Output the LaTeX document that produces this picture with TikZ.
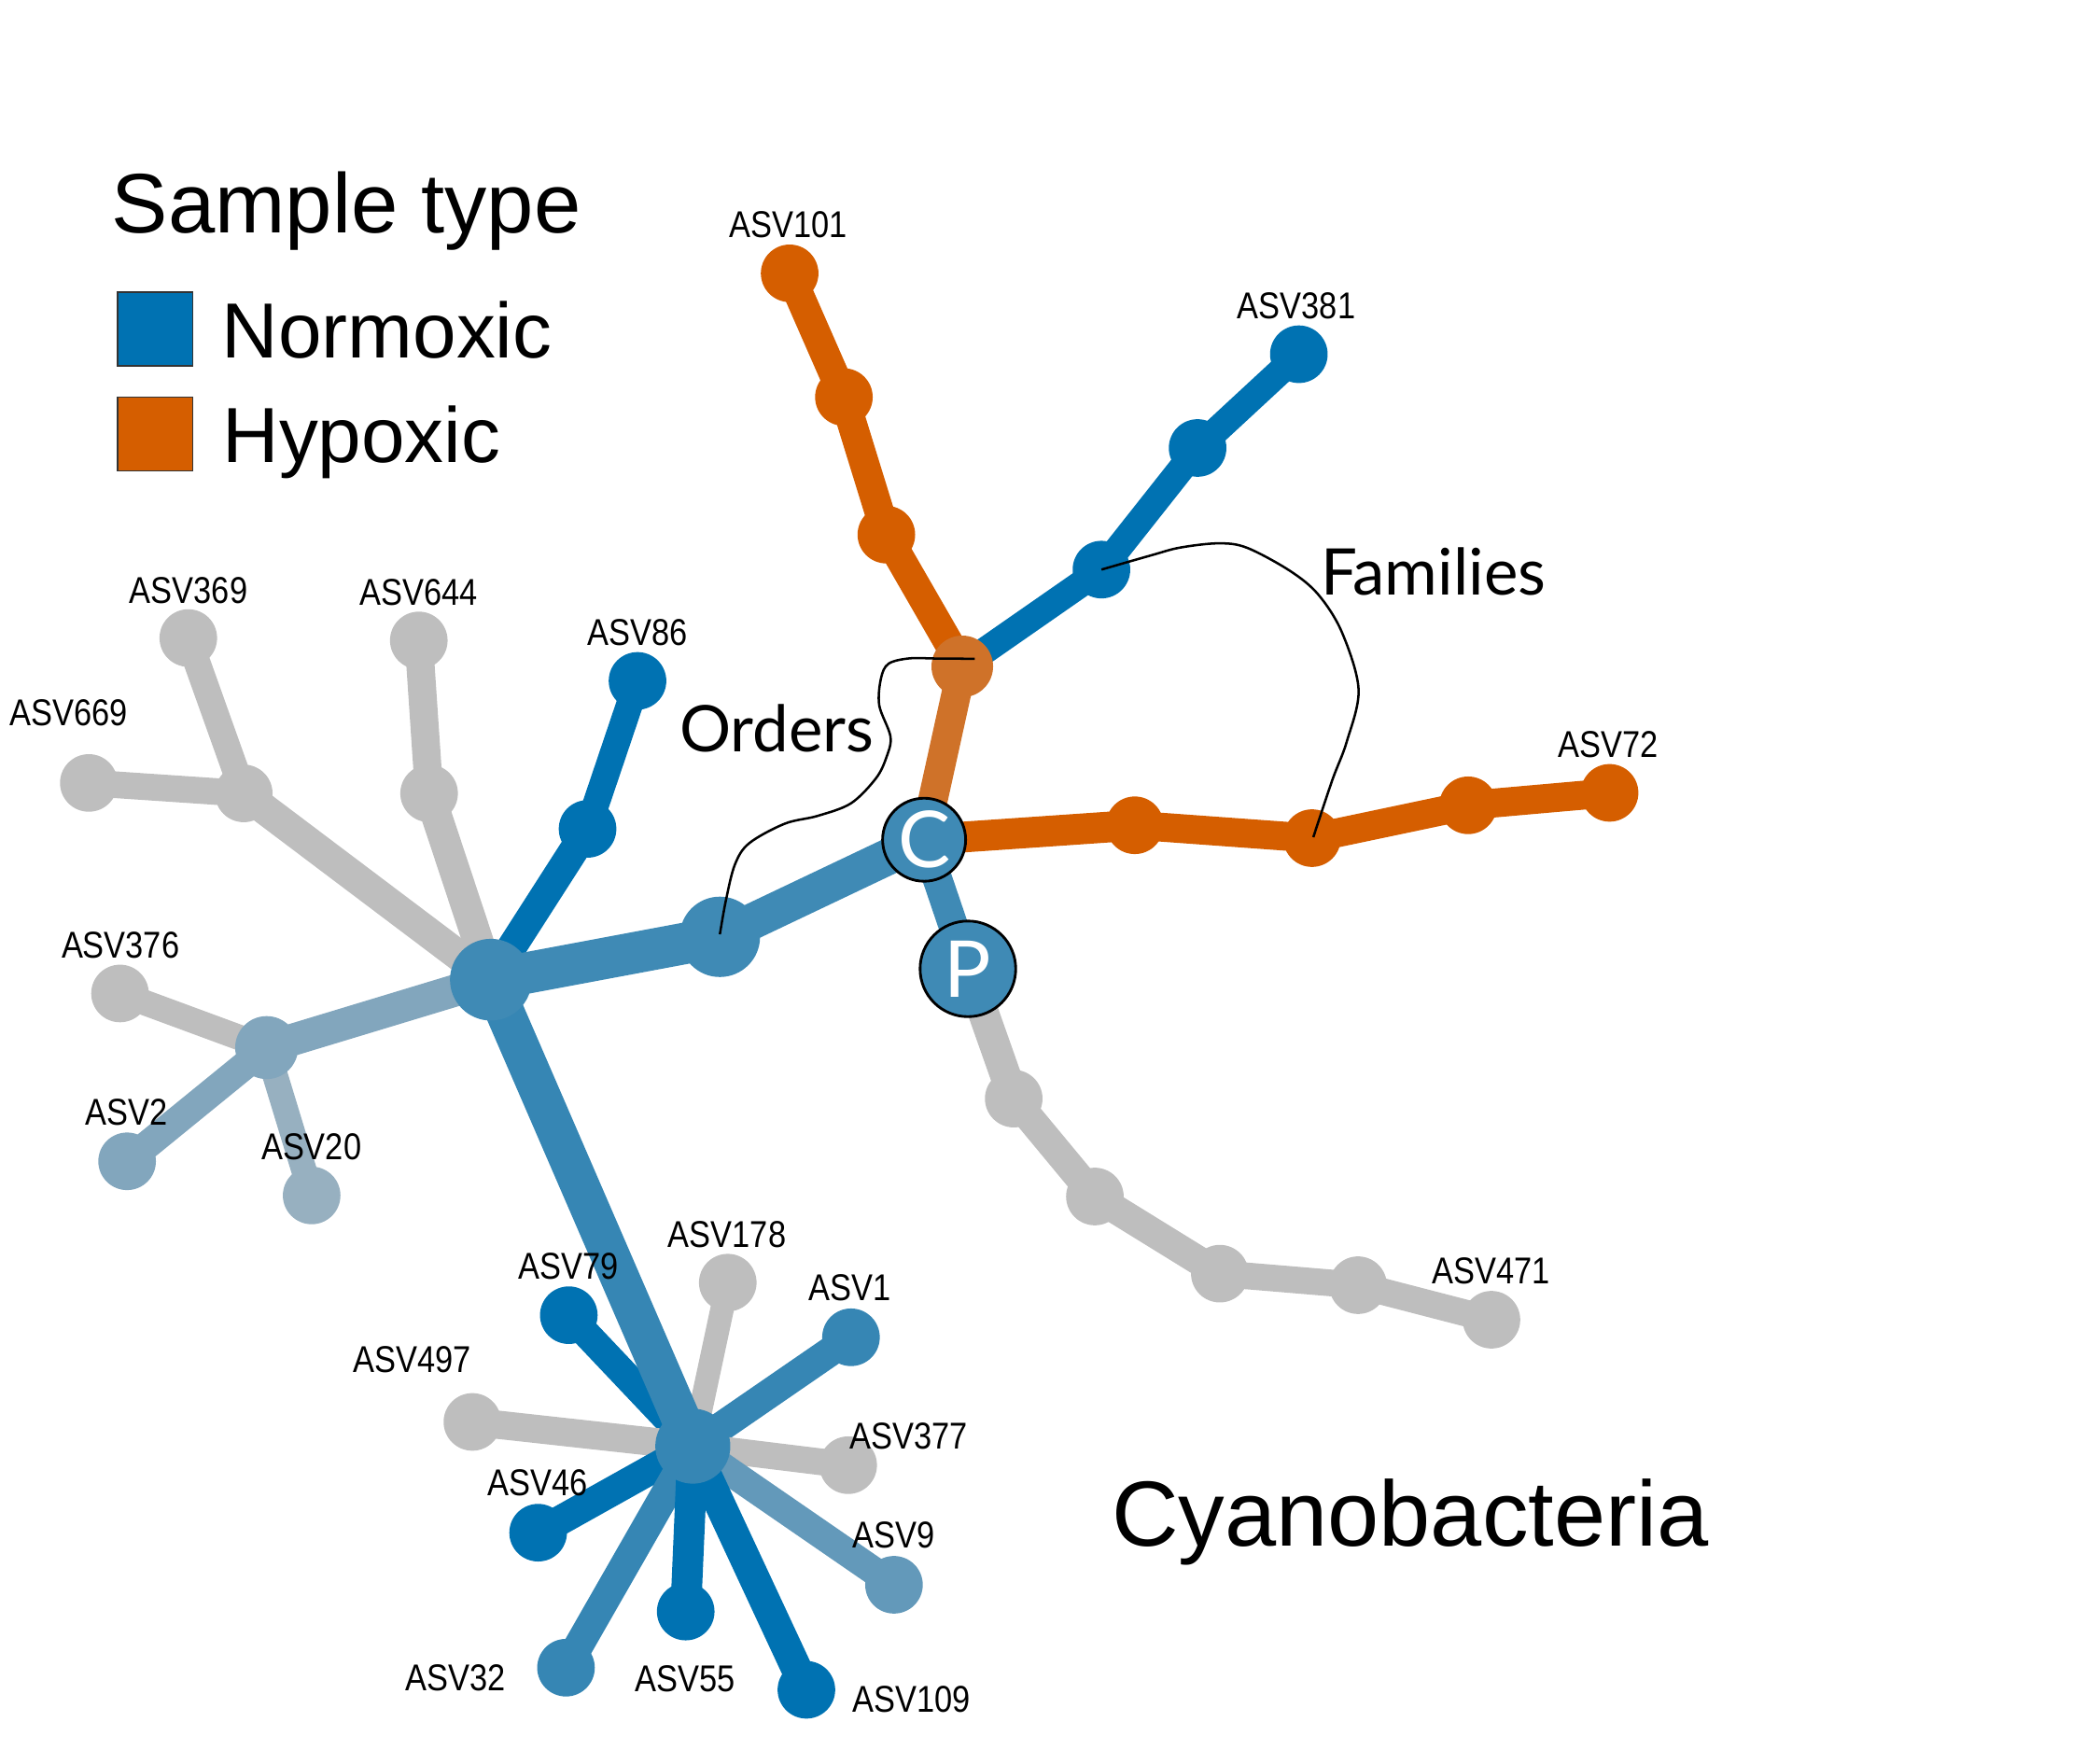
\documentclass[tikz,border=0pt]{standalone}
\usepackage{fontspec}
\setmainfont{Liberation Sans}
\newfontfamily\asvfont[FakeStretch=0.86]{Liberation Sans}
\newfontfamily\avfont{Lato}
\usepackage{tikz}
\usetikzlibrary{backgrounds}
\definecolor{normox}{HTML}{0072B2}
\definecolor{hypox}{HTML}{D55E00}
\definecolor{absent}{HTML}{BEBEBE}
\definecolor{mixA}{HTML}{3F8AB5}
\definecolor{mixB}{HTML}{3686B4}
\definecolor{mixC}{HTML}{6399BA}
\definecolor{mixD}{HTML}{82A6BD}
\definecolor{mixE}{HTML}{97B0C0}
\definecolor{mixO}{HTML}{CF7229}

\begin{document}
\begin{tikzpicture}[x=0.015cm,y=-0.015cm,
  asv/.style={circle,inner sep=0pt,minimum size=#1},asv/.default=0.645cm,
  rank/.style={circle,draw=black,line width=0.85pt,fill=mixA,inner sep=0pt,minimum size=#1,
    text=white,font=\avfont\fontsize{25}{25}\selectfont},
  lab/.style={inner sep=0pt,font=\asvfont\fontsize{11.9}{13}\selectfont},
  link/.style={line width=#1},link/.default=8.5pt,
  lead/.style={line width=0.75pt,black},
  leg/.style={anchor=base west,inner sep=0pt,font=\fontsize{24.9}{28}\selectfont},
  legsq/.style={draw=black!80,line width=0.5pt,inner sep=0pt,minimum width=0.84cm,minimum height=0.825cm}]
\useasboundingbox (0,0) rectangle (1568,1306);

\node[anchor=base west,inner sep=0pt,font=\fontsize{26.9}{30}\selectfont] (title) at (83,173.7) {Sample type};
\node[legsq,fill=normox] (sqN) at (116,245.5) {};
\node[legsq,fill=hypox] (sqH) at (116,324) {};
\node[leg] (txN) at (165.3,267.1) {Normoxic};
\node[leg] (txH) at (165.8,345.4) {Hypoxic};

\node[asv,fill=hypox] (a101) at (589.6,204.1) {};
\node[asv,fill=hypox] (o2) at (630.1,296.5) {};
\node[asv,fill=hypox] (o3) at (661.8,399.2) {};
\node[asv=0.69cm,fill=mixO] (ohub) at (718.5,497.6) {};
\node[asv,fill=normox] (b3) at (822.4,425.3) {};
\node[asv,fill=normox] (b2) at (894.2,334.5) {};
\node[asv,fill=normox] (a381) at (969.8,264.5) {};
\node[asv,fill=hypox] (r1) at (847.3,616.2) {};
\node[asv,fill=hypox] (r2) at (979.6,625.8) {};
\node[asv,fill=hypox] (r3) at (1096.2,601.3) {};
\node[asv,fill=hypox] (a72) at (1201.8,592) {};
\node[asv,fill=absent] (g1) at (756.9,820.3) {};
\node[asv,fill=absent] (g2) at (817.5,893.4) {};
\node[asv,fill=absent] (g3) at (910.8,951) {};
\node[asv,fill=absent] (g4) at (1014,959.6) {};
\node[asv,fill=absent] (a471) at (1113.6,985.4) {};

\node[asv=0.915cm,fill=mixA] (hub) at (366.5,731.5) {};
\node[asv=0.9cm,fill=mixA] (mid) at (537.5,699.5) {};
\node[rank=0.93cm] (C) at (690,627) {C};
\node[rank=1.071cm] (P) at (722.7,723.4) {P};

\node[asv,fill=normox] (n86) at (438.7,618.9) {};
\node[asv,fill=normox] (a86) at (476,508.4) {};
\node[asv,fill=absent] (n644) at (320.4,592.4) {};
\node[asv,fill=absent] (a644) at (312.7,478.2) {};
\node[asv,fill=absent] (n369) at (182,592.4) {};
\node[asv,fill=absent] (a369) at (140.6,476.4) {};
\node[asv,fill=absent] (a669) at (66.3,584.6) {};
\node[asv=0.705cm,fill=mixD] (n199) at (199.1,782.2) {};
\node[asv,fill=absent] (a376) at (89.6,741.8) {};
\node[asv,fill=mixD] (a2) at (94.9,867.1) {};
\node[asv,fill=mixE] (a20) at (232.7,892.6) {};

\node[asv=0.84cm,fill=mixB] (lhub) at (517.3,1079.8) {};
\node[asv,fill=normox] (a79) at (424.7,982) {};
\node[asv,fill=absent] (a178) at (543.4,957.7) {};
\node[asv,fill=mixB] (a1) at (635.4,998.5) {};
\node[asv,fill=absent] (a497) at (352.7,1061.7) {};
\node[asv,fill=absent] (a377) at (633.3,1094) {};
\node[asv,fill=normox] (a46) at (401.8,1144.4) {};
\node[asv,fill=mixC] (a9) at (667.5,1183.3) {};
\node[asv,fill=mixB] (a32) at (422.6,1245.2) {};
\node[asv,fill=normox] (a55) at (512,1203.3) {};
\node[asv,fill=normox] (a109) at (602.1,1261.7) {};

\begin{scope}[on background layer]
\draw[link=9pt,normox] (lhub.center) -- (a79.center);
\draw[link=7.5pt,absent] (lhub.center) -- (a178.center);
\draw[link=9.4pt,mixB] (lhub.center) -- (a1.center);
\draw[link=9pt,absent] (lhub.center) -- (a497.center);
\draw[link=8.5pt,absent] (lhub.center) -- (a377.center);
\draw[link=9.4pt,normox] (lhub.center) -- (a46.center);
\draw[link=9pt,mixC] (lhub.center) -- (a9.center);
\draw[link=9.4pt,mixB] (lhub.center) -- (a32.center);
\draw[link=9.8pt,normox] (lhub.center) -- (a55.center);
\draw[link=9.8pt,normox] (lhub.center) -- (a109.center);
\draw[link=12.4pt,mixB] (hub.center) -- (lhub.center);
\draw[link=9.8pt,absent] (hub.center) -- (n369.center);
\draw[link,absent] (n369.center) -- (a369.center);
\draw[link,absent] (n369.center) -- (a669.center);
\draw[link=9.8pt,absent] (hub.center) -- (n644.center);
\draw[link=9pt,absent] (n644.center) -- (a644.center);
\draw[link=9.4pt,normox] (hub.center) -- (n86.center);
\draw[link,normox] (n86.center) -- (a86.center);
\draw[link=10.2pt,mixD] (hub.center) -- (n199.center);
\draw[link=8.1pt,absent] (n199.center) -- (a376.center);
\draw[link=9pt,mixD] (n199.center) -- (a2.center);
\draw[link=8.1pt,mixE] (n199.center) -- (a20.center);
\draw[link=13.2pt,mixA] (hub.center) -- (mid.center);
\draw[link=11.5pt,mixA] (mid.center) -- (C.center);
\draw[link=9.4pt,mixO] (C.center) -- (ohub.center);
\draw[link=9.4pt,hypox] (ohub.center) -- (o3.center) -- (o2.center) -- (a101.center);
\draw[link,normox] (ohub.center) -- (b3.center) -- (b2.center) -- (a381.center);
\draw[link=9.8pt,hypox] (C.center) -- (r1.center);
\draw[link=9.2pt,hypox] (r1.center) -- (r2.center) -- (r3.center) -- (a72.center);
\draw[link=9.4pt,mixA] (C.center) -- (P.center);
\draw[link=9.8pt,absent] (P.center) -- (g1.center);
\draw[link=9.2pt,absent] (g1.center) -- (g2.center) -- (g3.center);
\draw[link,absent] (g3.center) -- (g4.center) -- (a471.center);
\end{scope}

\node[lab] (l101) at (588.5,168) {ASV101};
\node[lab] (l381) at (968,228.5) {ASV381};
\node[lab] (l72) at (1201,556) {ASV72};
\node[lab] (l471) at (1113.5,949) {ASV471};
\node[lab] (l86) at (476,472) {ASV86};
\node[lab] (l644) at (312.7,442.6) {ASV644};
\node[lab] (l369) at (140.8,440.8) {ASV369};
\node[lab] (l669) at (51.3,532.5) {ASV669};
\node[lab] (l376) at (90,705.5) {ASV376};
\node[lab] (l2) at (94.4,830.3) {ASV2};
\node[lab] (l20) at (232.5,856.1) {ASV20};
\node[lab] (l178) at (542.9,921.8) {ASV178};
\node[lab] (l79) at (424.6,945.8) {ASV79};
\node[lab] (l1) at (634.6,961.8) {ASV1};
\node[lab] (l497) at (308,1015.2) {ASV497};
\node[lab] (l377) at (678.4,1072.5) {ASV377};
\node[lab] (l46) at (401.5,1107.4) {ASV46};
\node[lab] (l9) at (667.3,1146.4) {ASV9};
\node[lab] (l32) at (340,1252.5) {ASV32};
\node[lab] (l55) at (511.4,1253.8) {ASV55};
\node[lab] (l109) at (680.5,1268.5) {ASV109};

\node[anchor=base west,inner sep=0pt,font=\avfont\fontsize{20.5}{24}\selectfont] (orders) at (507,561) {Orders};
\node[anchor=base west,inner sep=0pt,font=\avfont\fontsize{20.5}{24}\selectfont] (families) at (986,444.5) {Families};
\draw[lead] plot[smooth,tension=0.55] coordinates {([shift={(9.3,-5.7)}]ohub.center) (700,491.7) (678.9,491.6) (663.4,495.6)
  (657.8,506.5) (656.5,526.7) (664.9,550) (661.8,565.6) (654,581.2) (635.4,599.8) (610.5,609.2) (586,615)
  (559.4,629.6) (548.7,645.6) (542,672.3) ([shift={(0,-1.9)}]mid.center)};
\draw[lead] plot[smooth,tension=0.55] coordinates {(b3.center) (859.7,414.6) (881,408.9) (909.5,405.7) (930.8,408.9)
  (962.8,426) (984.2,443.8) (1002,472.2) (1014.4,514.9) (1005.5,554) (994.8,582.4) ([shift={(1,-0.7)}]r2.center)};

\node[anchor=base west,inner sep=0pt,font=\fontsize{29.5}{33}\selectfont] (taxon) at (829.6,1154.2) {Cyanobacteria};
\end{tikzpicture}
\end{document}
